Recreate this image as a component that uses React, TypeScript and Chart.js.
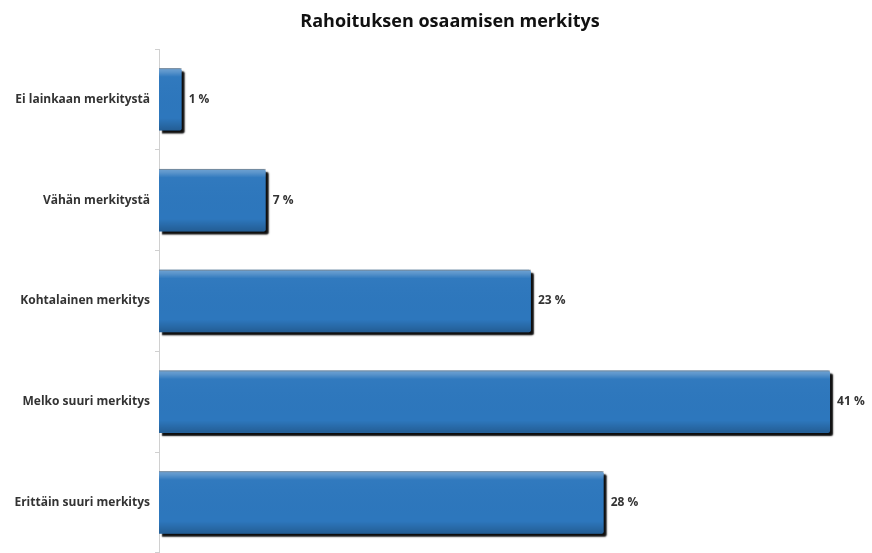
import React, { useEffect, useRef } from "react";
import { Chart, registerables } from "chart.js";

Chart.register(...registerables);

const titleText = "Rahoituksen osaamisen merkitys";
const categories = [
  "Ei lainkaan merkitystä",
  "Vähän merkitystä",
  "Kohtalainen merkitys",
  "Melko suuri merkitys",
  "Erittäin suuri merkitys",
];
const values = [1.4, 6.6, 23.0, 41.5, 27.5];
const valueLabels = ["1 %", "7 %", "23 %", "41 %", "28 %"];

const barFx = {
  id: "barFx",
  beforeDatasetsDraw(chart: any) {
    const c = chart.ctx;
    c.save();
    c.shadowColor = "rgba(0,0,0,0.95)";
    c.shadowOffsetX = 3;
    c.shadowOffsetY = 3;
    c.shadowBlur = 1.5;
  },
  afterDatasetsDraw(chart: any) {
    const c = chart.ctx;
    c.restore();
    const meta = chart.getDatasetMeta(0);
    meta.data.forEach((el: any, i: number) => {
      const { x, y, base, height } = el.getProps(["x", "y", "base", "height"], true);
      const top = y - height / 2;
      const g = c.createLinearGradient(0, top, 0, top + height);
      g.addColorStop(0, "rgba(255,255,255,0.32)");
      g.addColorStop(0.06, "rgba(255,255,255,0.22)");
      g.addColorStop(0.14, "rgba(255,255,255,0.02)");
      g.addColorStop(0.8, "rgba(0,0,0,0)");
      g.addColorStop(1, "rgba(0,0,0,0.22)");
      c.save();
      c.fillStyle = g;
      c.fillRect(base, top, x - base, height);
      c.strokeStyle = "rgba(120,120,120,0.6)";
      c.lineWidth = 1;
      c.beginPath();
      c.moveTo(base, top + 0.5);
      c.lineTo(x, top + 0.5);
      c.stroke();
      c.fillStyle = "#333333";
      c.font = 'bold 12px "Open Sans"';
      c.textBaseline = "middle";
      c.textAlign = "left";
      c.fillText(valueLabels[i], x + 7, y);
      c.restore();
    });
  },
  afterDraw(chart: any) {
    const c = chart.ctx;
    c.save();
    c.fillStyle = "#111111";
    c.font = 'bold 18px "Open Sans"';
    c.textAlign = "center";
    c.textBaseline = "middle";
    c.fillText(titleText, 450, 22);
    c.restore();
  },
};

export default function App() {
  const ref = useRef<HTMLCanvasElement | null>(null);
  useEffect(() => {
    if (!ref.current) return;
    const chart = new Chart(ref.current, {
      type: "bar",
      data: {
        labels: categories,
        datasets: [
          {
            data: values,
            backgroundColor: "#2d77bd",
            borderWidth: 0,
            borderRadius: 2,
            barPercentage: 0.62,
            categoryPercentage: 1,
          },
        ],
      },
      options: {
        indexAxis: "y",
        animation: false,
        responsive: false,
        maintainAspectRatio: false,
        layout: { padding: { left: 0, right: 8, top: 49, bottom: 6 } },
        plugins: {
          legend: { display: false },
          tooltip: { enabled: false },
          title: { display: false },
        },
        scales: {
          x: {
            display: false,
            min: 0,
            max: 43.6,
          },
          y: {
            afterFit(scale: any) {
              scale.width = 159;
            },
            border: { display: true, color: "#d0d0d0", width: 1 },
            grid: {
              offset: true,
              drawOnChartArea: false,
              drawTicks: true,
              tickLength: 4,
              color: "#d0d0d0",
            },
            ticks: {
              color: "#333333",
              padding: 5,
              font: { family: '"Open Sans"', size: 12, weight: "bold" },
            },
          },
        },
      },
      plugins: [barFx],
    });
    return () => chart.destroy();
  }, []);
  return (
    <div
      style={{
        position: "absolute",
        left: 0,
        top: 0,
        width: 872,
        height: 553,
        overflow: "hidden",
        background: "#ffffff",
      }}
    >
      <canvas ref={ref} width={872} height={565} style={{ display: "block" }} />
    </div>
  );
}
